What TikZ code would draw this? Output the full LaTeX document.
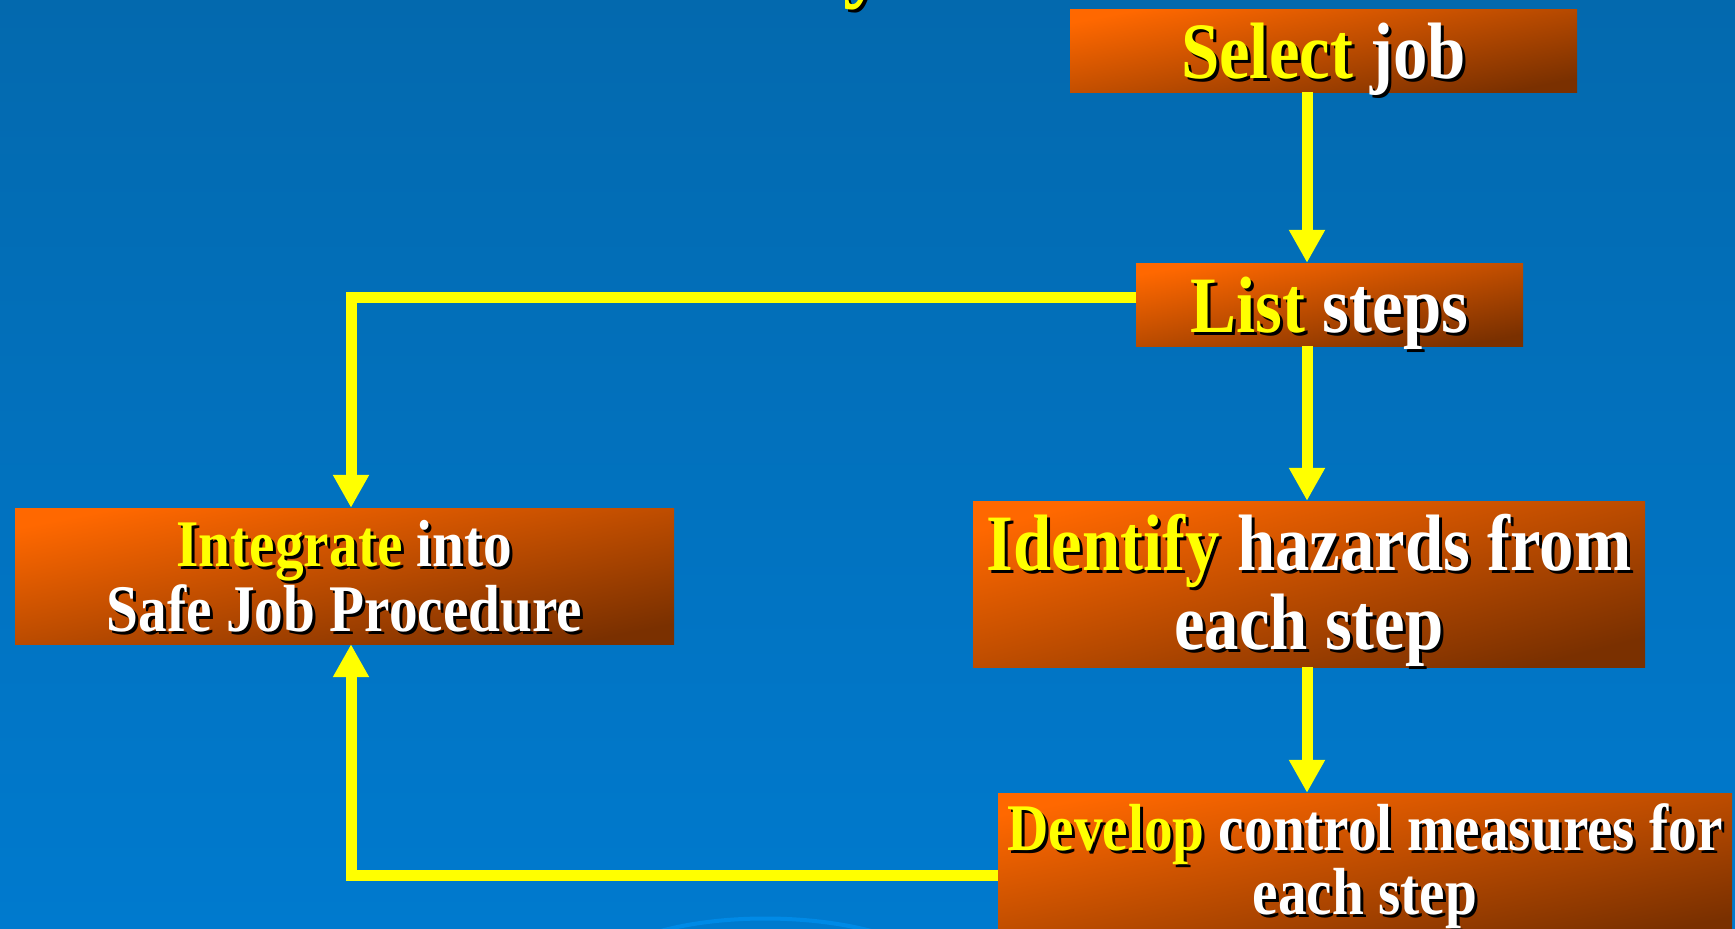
\documentclass[tikz,border=0pt]{standalone}
\usepackage{fontspec}
\newfontfamily\boxfont{Liberation Serif}[FakeStretch=0.86]
\usetikzlibrary{arrows.meta}

\definecolor{bgtop}{RGB}{3,105,174}
\definecolor{bgbot}{RGB}{0,122,206}
\definecolor{boxlight}{RGB}{255,104,0}
\definecolor{boxdark}{RGB}{122,48,0}
\definecolor{hlyellow}{RGB}{255,255,0}
\definecolor{glow}{RGB}{0,138,230}

% text with a dark drop shadow
\newcommand{\shtext}[2]{\makebox[0pt][l]{\kern3pt\raisebox{-3pt}{\color{black}#2}}{\color{#1}#2}}
\newcommand{\yel}[1]{\shtext{hlyellow}{#1}}
\newcommand{\wht}[1]{\shtext{white}{#1}}

\tikzset{
  stepbox/.style={inner sep=0pt, align=center, text depth=0pt, top color=boxlight, bottom color=boxdark, shading angle=11},
  bigtext/.style={font=\boxfont\bfseries\fontsize{80}{79}\selectfont},
  smalltext/.style={font=\boxfont\bfseries\fontsize{66.6}{63}\selectfont},
  flow/.style={draw=hlyellow, line width=11pt, -{Triangle[width=34pt,length=33pt]}}
}

\begin{document}
\begin{tikzpicture}[x=1pt,y=-1pt]
% Background
\shade[top color=bgtop, bottom color=bgbot] (0,0) rectangle (1735,929);
\useasboundingbox (0,0) rectangle (1735,929);
\draw[glow, line width=4pt] (657,932) .. controls (720,914) and (810,914) .. (875,932);

% Tail of the title above the frame
\node[anchor=base west, inner sep=0pt, font=\boxfont\bfseries\fontsize{100}{100}\selectfont] (title) at (843,-12) {\yel{y}};

% Boxes
\node[stepbox, bigtext, minimum width=507pt, minimum height=83pt] (select) at (1323.5,50.5) {\yel{Select} \wht{job}};
\node[stepbox, bigtext, minimum width=387pt, minimum height=83pt] (list) at (1329.5,304.5) {\yel{List} \wht{steps}};
\node[stepbox, bigtext, minimum width=672pt, minimum height=166pt, text depth=5pt, shading angle=14] (identify) at (1309,584) {\yel{Identify} \wht{hazards from}\\\wht{each step}};
\node[stepbox, smalltext, minimum width=659pt, minimum height=136pt] (integrate) at (344.5,576) {\yel{Integrate} \wht{into}\\\wht{Safe Job Procedure}};
\node[stepbox, smalltext, minimum width=734pt, minimum height=146pt, text depth=14.5pt] (develop) at (1365,866) {\yel{Develop} \wht{control measures for}\\\wht{each step}};

% Arrows
\coordinate (spine) at (1307,0);
\coordinate (back) at (351,0);
\draw[flow] (spine |- select.south) -- (spine |- list.north);
\draw[flow] (spine |- list.south) -- (spine |- identify.north);
\draw[flow] (spine |- identify.south) -- (spine |- develop.north);
\draw[flow] ([yshift=7pt]list.west) -| (back |- integrate.north);
\draw[flow] ([yshift=-9pt]develop.west) -| (back |- integrate.south);
\end{tikzpicture}
\end{document}
